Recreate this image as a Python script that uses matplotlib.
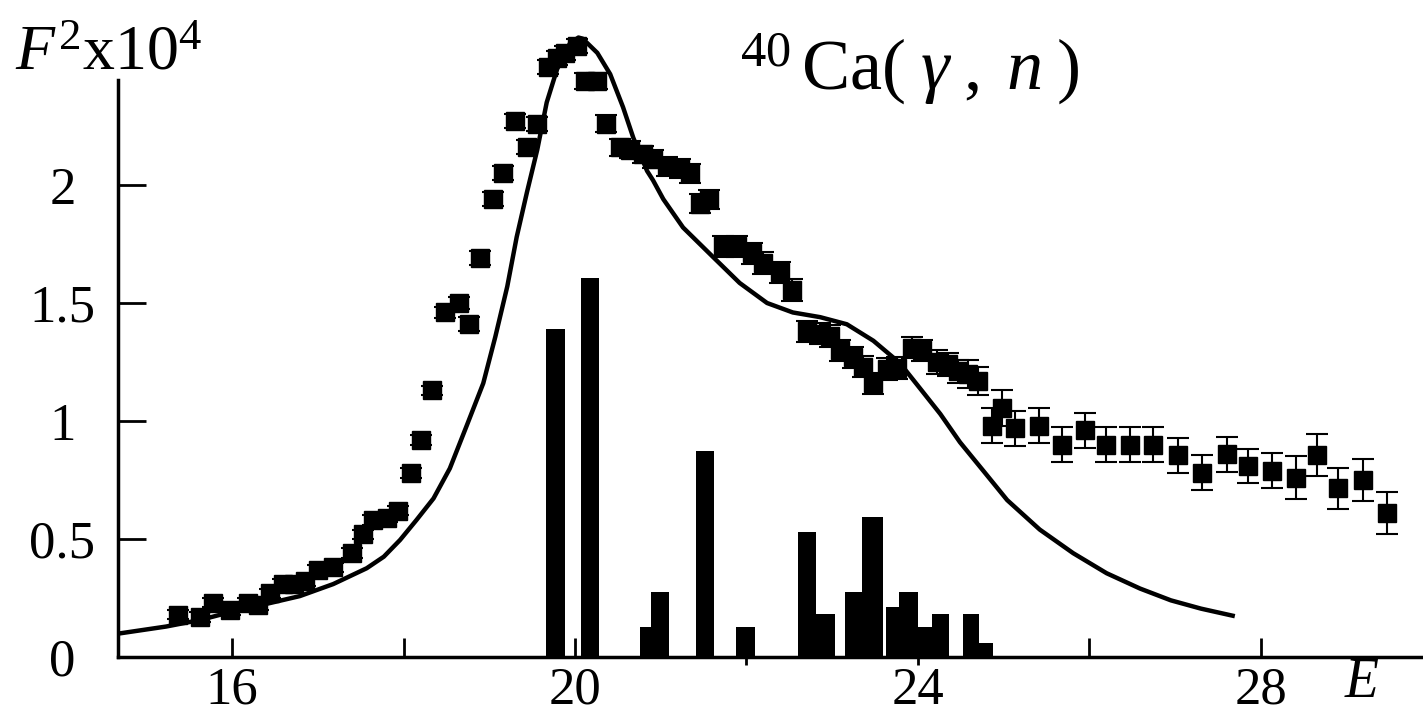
import matplotlib
matplotlib.use("Agg")
import matplotlib.pyplot as plt

plt.rcParams['font.family'] = ['Liberation Serif', 'DejaVu Serif']
plt.rcParams['mathtext.fontset'] = 'custom'
plt.rcParams['mathtext.rm'] = 'Liberation Serif'
plt.rcParams['mathtext.it'] = 'Liberation Serif:italic'
plt.rcParams['mathtext.bf'] = 'Liberation Serif:bold'

# experimental points: energy (MeV), F^2 x 10^4, error
exp_E = [15.37, 15.63, 15.78, 15.98, 16.19, 16.30, 16.44, 16.59, 16.72, 16.85,
         17.00, 17.18, 17.40, 17.53, 17.64, 17.81, 17.94, 18.09, 18.20, 18.33,
         18.48, 18.65, 18.76, 18.89, 19.04, 19.16, 19.30, 19.44, 19.56, 19.69,
         19.79, 19.88, 20.02, 20.12, 20.26, 20.36, 20.52, 20.64, 20.79, 20.91,
         21.07, 21.22, 21.34, 21.46, 21.56, 21.73, 21.89, 22.06, 22.19, 22.39,
         22.53, 22.70, 22.86, 22.97, 23.09, 23.24, 23.36, 23.48, 23.64, 23.75,
         23.93, 24.05, 24.22, 24.35, 24.47, 24.58, 24.70, 24.86, 24.98, 25.13,
         25.41, 25.68, 25.95, 26.19, 26.47, 26.74, 27.03, 27.31, 27.60, 27.85,
         28.13, 28.41, 28.65, 28.90, 29.19, 29.47]
exp_F = [0.18, 0.17, 0.23, 0.20, 0.23, 0.22, 0.27, 0.31, 0.31, 0.32,
         0.37, 0.38, 0.44, 0.52, 0.58, 0.59, 0.62, 0.78, 0.92, 1.13,
         1.46, 1.50, 1.41, 1.69, 1.94, 2.05, 2.27, 2.16, 2.26, 2.50,
         2.54, 2.56, 2.59, 2.44, 2.44, 2.26, 2.16, 2.15, 2.13, 2.11,
         2.08, 2.07, 2.05, 1.92, 1.94, 1.74, 1.74, 1.71, 1.67, 1.63,
         1.555, 1.38, 1.37, 1.36, 1.30, 1.27, 1.23, 1.16, 1.22, 1.225,
         1.31, 1.30, 1.25, 1.24, 1.21, 1.20, 1.17, 0.98, 1.055, 0.97,
         0.98, 0.90, 0.96, 0.90, 0.90, 0.90, 0.855, 0.78, 0.86, 0.81,
         0.79, 0.76, 0.855, 0.715, 0.75, 0.61]
exp_err = [0.02] * 20 + [0.025, 0.025, 0.03, 0.03, 0.03, 0.03, 0.03, 0.03, 0.03, 0.03,
           0.03, 0.03, 0.03, 0.035, 0.035, 0.035, 0.035, 0.035, 0.035, 0.04,
           0.04, 0.04, 0.04, 0.04, 0.04, 0.045, 0.045, 0.045, 0.045, 0.045,
           0.045, 0.045, 0.045, 0.045, 0.045, 0.045, 0.045, 0.045, 0.045, 0.045,
           0.045, 0.045, 0.05, 0.05, 0.05, 0.06, 0.06, 0.074, 0.075, 0.074,
           0.074, 0.074, 0.073, 0.074, 0.074, 0.074, 0.074, 0.074, 0.074, 0.073,
           0.073, 0.092, 0.09, 0.087, 0.091, 0.09]

# calculated curve
curve_E = [14.69, 15.23, 15.63, 16.01, 16.40, 16.79, 17.18, 17.57, 17.77, 17.96,
           18.15, 18.35, 18.54, 18.74, 18.93, 19.07, 19.21, 19.32, 19.44, 19.56,
           19.67, 19.79, 19.94, 20.04, 20.09, 20.26, 20.41, 20.56, 20.68, 20.84,
           20.91, 21.03, 21.26, 21.61, 21.92, 22.24, 22.54, 22.86, 23.17, 23.48,
           23.79, 24.02, 24.26, 24.49, 24.76, 25.04, 25.42, 25.81, 26.20, 26.59,
           26.95, 27.30, 27.67]
curve_F = [0.10, 0.129, 0.157, 0.193, 0.225, 0.258, 0.309, 0.376, 0.425, 0.496,
           0.580, 0.672, 0.799, 0.983, 1.16, 1.356, 1.57, 1.78, 1.97, 2.15,
           2.35, 2.49, 2.60, 2.625, 2.62, 2.56, 2.47, 2.33, 2.20, 2.06,
           2.02, 1.94, 1.82, 1.695, 1.585, 1.50, 1.46, 1.44, 1.41, 1.34,
           1.245, 1.14, 1.03, 0.91, 0.79, 0.665, 0.54, 0.44, 0.355, 0.29,
           0.24, 0.205, 0.175]

# strength histogram: bin edges and heights
bar_lo = [19.66, 20.07, 20.76, 20.89, 21.41, 21.88, 22.60, 22.81, 23.15, 23.35,
          23.63, 23.78, 24.00, 24.16, 24.52, 24.71]
bar_hi = [19.88, 20.28, 20.89, 21.10, 21.62, 22.10, 22.81, 23.03, 23.35, 23.59,
          23.78, 24.00, 24.16, 24.36, 24.71, 24.87]
bar_F = [1.39, 1.606, 0.127, 0.275, 0.873, 0.127, 0.53, 0.182, 0.275, 0.593,
         0.212, 0.275, 0.127, 0.182, 0.182, 0.06]

xticks_major = [16, 18, 20, 26, 28]
xlabels_major = ['16', '', '20', '', '28']
xticks_minor = [22, 24]
xlabels_minor = ['', '24']
yticks = [0, 0.5, 1, 1.5, 2]
ylabels = ['0', '0.5', '1', '1.5', '2']

fig = plt.figure(figsize=(14.23, 7.12), dpi=100)
ax = fig.add_axes([118 / 1423, 55 / 712, 1305 / 1423, 657 / 712])

widths = [h - l for l, h in zip(bar_lo, bar_hi)]
ax.bar(bar_lo, bar_F, width=widths, align='edge', color='black', edgecolor='none')
ax.plot(curve_E, curve_F, color='black', lw=3.2, solid_joinstyle='round')
ax.errorbar(exp_E, exp_F, yerr=exp_err, fmt='s', color='black', ms=12.5,
            capsize=8, elinewidth=1.5, capthick=1.5)

ax.set_xlim(14.67, 29.89)
ax.set_ylim(0, 2.784)

for s in ['top', 'right']:
    ax.spines[s].set_visible(False)
ax.spines['left'].set_linewidth(2.5)
ax.spines['bottom'].set_linewidth(2.5)
ax.spines['left'].set_bounds(0, 2.445)

ax.set_xticks(xticks_major, labels=xlabels_major)
ax.set_xticks(xticks_minor, labels=xlabels_minor, minor=True)
ax.tick_params(axis='x', which='major', direction='in', length=14, width=2,
               labelsize=38, pad=7)
ax.tick_params(axis='x', which='minor', direction='out', length=6, width=2,
               labelsize=38, pad=1)
ax.set_yticks(yticks, labels=ylabels)
ax.tick_params(axis='y', direction='in', length=20, width=2, labelsize=38, pad=40)
for lab in ax.get_yticklabels():
    lab.set_horizontalalignment('center')

fig.text(15 / 1423, 1 - 70 / 712, r'$F^{2}\mathrm{x}10^{4}$', fontsize=46,
         ha='left', va='baseline')
fig.text(740 / 1423, 1 - 90 / 712, r'$^{40}\,\mathrm{Ca}(\;\gamma\;,\; n\;)$',
         fontsize=52, ha='left', va='baseline')
fig.text(1362 / 1423, 1 - 697 / 712, 'E', fontsize=40, style='italic',
         ha='center', va='baseline')

fig.savefig('out.png', dpi=100)
